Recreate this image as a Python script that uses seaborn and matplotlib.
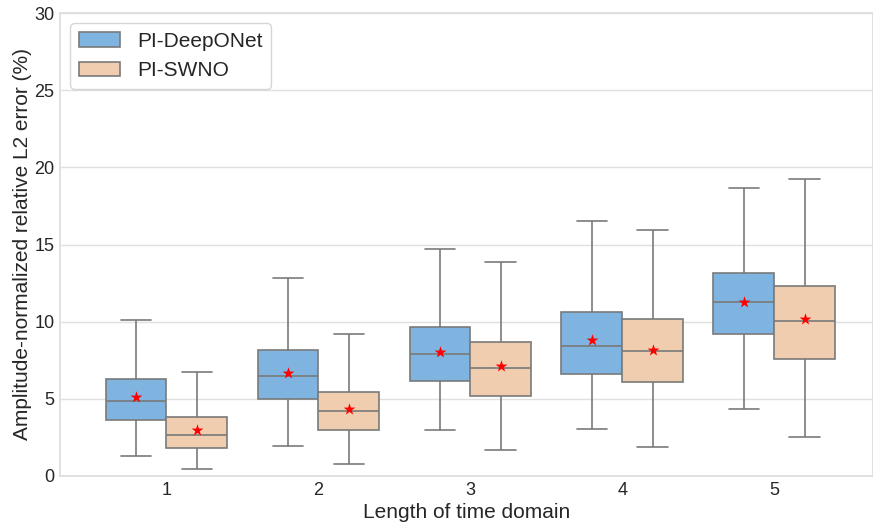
import numpy as np
import pandas as pd
import matplotlib
matplotlib.use("Agg")
import matplotlib.pyplot as plt
import seaborn as sns

# ---- data ----
lengths = ["1", "2", "3", "4", "5"]
models = ["PI-DeepONet", "PI-SWNO"]

deeponet_low = [1.32, 1.94, 2.98, 3.02, 4.32]
deeponet_q1 = [3.63, 5.01, 6.18, 6.63, 9.18]
deeponet_med = [4.86, 6.50, 7.91, 8.45, 11.26]
deeponet_q3 = [6.27, 8.15, 9.66, 10.63, 13.14]
deeponet_high = [10.10, 12.85, 14.71, 16.50, 18.64]
deeponet_mean = [5.14, 6.70, 8.04, 8.81, 11.28]

swno_low = [0.45, 0.76, 1.66, 1.90, 2.55]
swno_q1 = [1.83, 2.98, 5.21, 6.09, 7.56]
swno_med = [2.66, 4.19, 7.00, 8.12, 10.07]
swno_q3 = [3.80, 5.46, 8.71, 10.15, 12.29]
swno_high = [6.76, 9.22, 13.89, 15.92, 19.23]
swno_mean = [2.98, 4.34, 7.13, 8.19, 10.16]

colors = {"PI-DeepONet": "#7EB4DF", "PI-SWNO": "#F0CDAE"}

# ---- build tables ----
stats = {
    "PI-DeepONet": [deeponet_low, deeponet_q1, deeponet_med, deeponet_q3, deeponet_high],
    "PI-SWNO": [swno_low, swno_q1, swno_med, swno_q3, swno_high],
}
rows = []
for m in models:
    for i, L in enumerate(lengths):
        for s in stats[m]:
            rows.append({"Length": L, "Model": m, "Error": s[i]})
box_df = pd.DataFrame(rows)

mean_rows = []
for m, means in zip(models, [deeponet_mean, swno_mean]):
    for L, v in zip(lengths, means):
        mean_rows.append({"Length": L, "Model": m, "Mean": v})
mean_df = pd.DataFrame(mean_rows)

# ---- plot ----
sns.set_theme(style="whitegrid")
plt.rcParams["font.family"] = ["Liberation Sans", "DejaVu Sans"]

fig = plt.figure(figsize=(8.73, 5.25), dpi=100)
ax = fig.add_axes([60 / 873, 49 / 525, 813 / 873, 463 / 525])

sns.boxplot(
    data=box_df, x="Length", y="Error", hue="Model",
    order=lengths, hue_order=models, palette=colors,
    whis=(0, 100), width=0.8, saturation=1, linecolor="#7a7a7a",
    linewidth=1.2, ax=ax,
)
sns.stripplot(
    data=mean_df, x="Length", y="Mean", hue="Model",
    order=lengths, hue_order=models,
    palette={"PI-DeepONet": "red", "PI-SWNO": "red"},
    dodge=True, jitter=False, marker="*", size=9, linewidth=0,
    legend=False, zorder=5, ax=ax,
)

ax.set_ylim(0, 30)
ax.set_xlim(-0.7, 4.65)
ax.set_yticks([0, 5, 10, 15, 20, 25, 30])
ax.xaxis.grid(False)
ax.yaxis.grid(True, color="#e0e0e0", linewidth=1)
ax.tick_params(axis="both", labelsize=13, length=0, pad=4)
ax.set_xlabel("Length of time domain", fontsize=15, labelpad=3)
ax.set_ylabel("Amplitude-normalized relative L2 error (%)", fontsize=15, labelpad=2)
for sp in ax.spines.values():
    sp.set_color("#dddddd")

sns.move_legend(ax, "upper left", title=None, fontsize=15, frameon=True)

fig.savefig("out.png", dpi=100)
